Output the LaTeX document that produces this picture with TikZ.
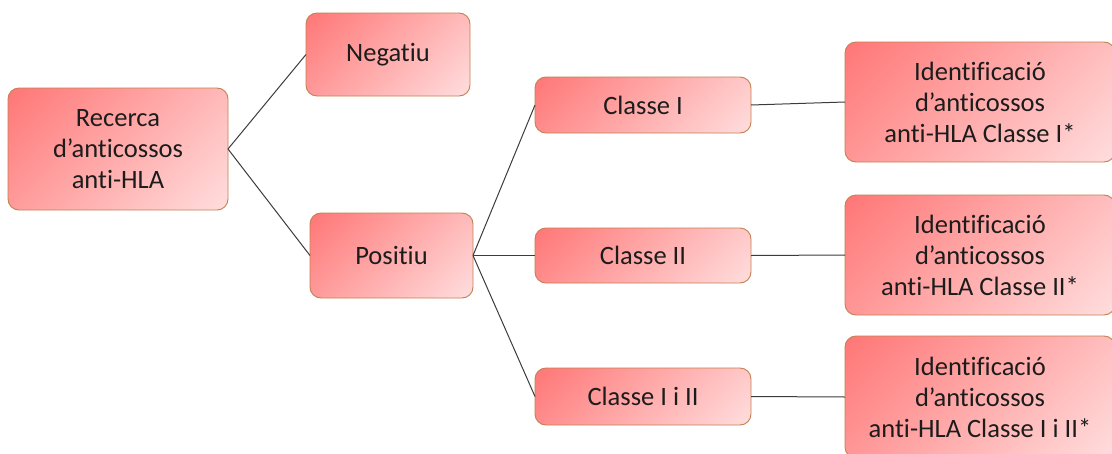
\documentclass[tikz,border=0pt]{standalone}
\usepackage{fontspec}
\setmainfont[Ligatures={NoCommon,NoDiscretionary}]{Carlito}
\definecolor{boxdark}{RGB}{255,118,118}
\definecolor{boxlight}{RGB}{255,222,222}
\definecolor{boxedge}{RGB}{196,128,80}
\definecolor{txt}{RGB}{28,28,28}
\definecolor{linec}{RGB}{60,60,60}
\pgfdeclareverticalshading{diagfill}{150pt}{color(0pt)=(boxlight); color(100pt)=(boxdark)}
\begin{document}
\begin{tikzpicture}[x=1pt,y=-1pt,
  box/.style={draw=boxedge, line width=0.9pt, rounded corners=11pt,
    path picture={
      \pgfpointdiff{\pgfpointanchor{path picture bounding box}{south west}}{\pgfpointanchor{path picture bounding box}{north east}}
      \pgfgetlastxy{\bdx}{\bdy}
      \pgfmathsetmacro\bdk{(\bdx+\bdy)/(1.41421*100)}
      \pgftransformshift{\pgfpointanchor{path picture bounding box}{center}}
      \pgftransformrotate{45}
      \pgftransformscale{\bdk}
      \pgflowlevelsynccm
      \pgfuseshading{diagfill}
    },
    text=txt, align=center, inner sep=0pt, outer sep=0pt,
    font=\fontsize{26.5}{31}\selectfont},
  conn/.style={draw=linec, line width=1pt}]
\useasboundingbox (0,0) rectangle (1112,453);
\node[box, minimum width=220pt, minimum height=122pt] (rec) at (118,149) {Recerca\\d’anticossos\\anti-HLA};
\node[box, minimum width=164pt, minimum height=83pt] (neg) at (388,54.5) {Negatiu};
\node[box, minimum width=163pt, minimum height=85pt] (pos) at (391.5,255.5) {Positiu};
\node[box, minimum width=216pt, minimum height=56pt] (c1) at (643,105) {Classe I};
\node[box, minimum width=216pt, minimum height=55pt] (c2) at (643,255.5) {Classe II};
\node[box, minimum width=216pt, minimum height=57pt] (c3) at (643,396.5) {Classe I i II};
\node[box, minimum width=270pt, minimum height=120pt] (i1) at (980,102) {Identificació\\d’anticossos\\anti-HLA Classe I*};
\node[box, minimum width=270pt, minimum height=120pt] (i2) at (980,255) {Identificació\\d’anticossos\\anti-HLA Classe II*};
\node[box, minimum width=270pt, minimum height=122pt] (i3) at (980,397) {Identificació\\d’anticossos\\anti-HLA Classe I i II*};
\draw[conn] (rec.east) -- (neg.west);
\draw[conn] (rec.east) -- (pos.west);
\draw[conn] (pos.east) -- (c1.west);
\draw[conn] (pos.east) -- (c2.west);
\draw[conn] (pos.east) -- (c3.west);
\draw[conn] (c1.east) -- (i1.west);
\draw[conn] (c2.east) -- (i2.west);
\draw[conn] (c3.east) -- (i3.west);
\end{tikzpicture}
\end{document}
